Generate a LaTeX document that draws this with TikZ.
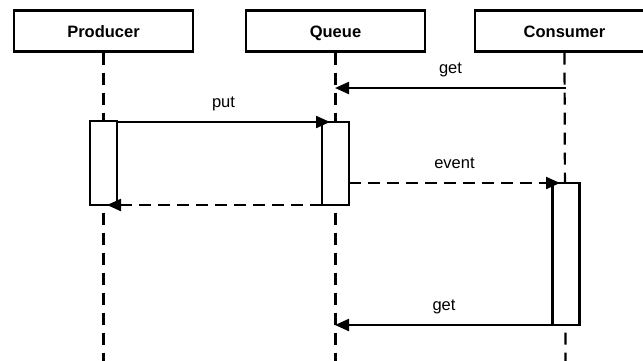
\documentclass[tikz,border=0pt]{standalone}
\usepackage{fontspec}
\setmainfont{Liberation Sans}
\usetikzlibrary{arrows.meta}
\begin{document}
\begin{tikzpicture}[x=1pt,y=-1pt,
  header/.style={draw,line width=2.2pt,fill=white,minimum width=179pt,minimum height=41pt,inner sep=0pt,text height=12pt,text depth=0pt,font=\fontsize{16.5}{19}\selectfont\bfseries},
  lifeline/.style={line width=2.2pt,dash pattern=on 12pt off 8pt},
  actbox/.style={draw,line width=2.2pt,fill=white,minimum width=27pt,inner sep=0pt},
  msg/.style={line width=2.2pt,-{Triangle[length=14pt,width=12pt]}},
  retmsg/.style={msg,dash pattern=on 12pt off 7pt},
  lbl/.style={midway,anchor=base,yshift=15pt,font=\fontsize{16.5}{19}\selectfont}]
\clip (0,0) rectangle (643,360);
\fill[white] (0,0) rectangle (643,360);
% headers
\node[header] (prod) at (103.5,31) {Producer};
\node[header] (queue) at (335.5,31) {Queue};
\node[header] (cons) at (564.5,31) {Consumer};
% lifeline ends
\coordinate (pend) at (103.5,362);
\coordinate (qend) at (335.5,362);
\coordinate (cend) at (565.5,362);
\draw[lifeline] (prod.south) -- (pend);
\draw[lifeline] (queue.south) -- (qend);
\draw[lifeline] (cons.south) -- (cend);
% activation boxes
\node[actbox,minimum height=84pt] (pa) at (103.5,163) {};
\node[actbox,minimum height=83pt] (qa) at (335.5,163.5) {};
\node[actbox,minimum height=142pt] (ca) at (566,254) {};
% message coordinates
\coordinate (g1s) at (566,88);
\coordinate (g1e) at (335,88);
\coordinate (putS) at (117,122);
\coordinate (putE) at (330,122);
\coordinate (retS) at (322,205);
\coordinate (retE) at (107,205);
\coordinate (evS) at (349,183);
\coordinate (evE) at (560,183);
\coordinate (g2s) at (553,325);
\coordinate (g2e) at (335,325);
% messages
\draw[msg] (g1s) -- node[lbl] {get} (g1e);
\draw[msg] (putS) -- node[lbl] {put} (putE);
\draw[retmsg] (retS) -- (retE);
\draw[retmsg] (evS) -- node[lbl] {event} (evE);
\draw[msg] (g2s) -- node[lbl] {get} (g2e);
\end{tikzpicture}
\end{document}
